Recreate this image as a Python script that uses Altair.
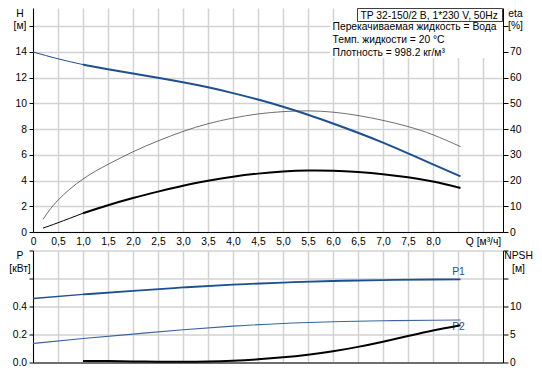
import altair as alt
import pandas as pd

FONT = "Liberation Sans"
FS = 10.3

# ---------------- data ----------------
q_h = [0, 0.5, 1.0, 1.5, 2.0, 2.5, 3.0, 3.5, 4.0, 4.5, 5.0, 5.5, 6.0, 6.5, 7.0, 7.5, 8.0, 8.55]
h_vals = [14.0, 13.47, 13.02, 12.66, 12.32, 11.99, 11.64, 11.25, 10.8, 10.3, 9.74, 9.12, 8.44, 7.72, 6.95, 6.12, 5.26, 4.33]

q_eta = [0.2, 0.5, 1.0, 1.5, 2.0, 2.5, 3.0, 3.5, 4.0, 4.5, 5.0, 5.5, 6.0, 6.5, 7.0, 7.5, 8.0, 8.55]
eta_pump = [4.9, 12.4, 20.6, 26.3, 31.2, 35.4, 39.1, 42.1, 44.3, 45.9, 46.8, 47.1, 46.6, 45.3, 43.4, 41.0, 37.8, 33.2]
eta_total = [1.5, 3.6, 7.3, 10.4, 13.2, 15.7, 18.0, 19.9, 21.5, 22.7, 23.5, 23.9, 23.8, 23.3, 22.5, 21.3, 19.6, 17.1]

q_p = [0, 1, 2, 3, 4, 5, 6, 7, 8, 8.55]
p1_vals = [0.457, 0.486, 0.512, 0.536, 0.556, 0.571, 0.582, 0.589, 0.593, 0.594]
p2_vals = [0.136, 0.171, 0.203, 0.234, 0.260, 0.279, 0.291, 0.298, 0.302, 0.304]

q_npsh = [1.0, 1.5, 2.0, 2.5, 3.0, 3.5, 4.0, 4.5, 5.0, 5.5, 6.0, 6.5, 7.0, 7.5, 8.0, 8.55]
npsh_vals = [0.29, 0.25, 0.2, 0.15, 0.12, 0.17, 0.33, 0.58, 0.93, 1.4, 2.0, 2.79, 3.72, 4.72, 5.71, 6.66]

x_ticks = [0, 0.5, 1.0, 1.5, 2.0, 2.5, 3.0, 3.5, 4.0, 4.5, 5.0, 5.5, 6.0, 6.5, 7.0, 7.5, 8.0, 8.5, 9.0]
h_ticks = [0, 2, 4, 6, 8, 10, 12, 14, 16]
eta_ticks = [0, 10, 20, 30, 40, 50, 60, 70, 80]
p_ticks = [0.0, 0.2, 0.4, 0.6, 0.8]
npsh_ticks = [0, 5, 10, 15, 20]

title_box = "TP 32-150/2 B, 1*230 V, 50Hz"
info_lines = ["Перекачиваемая жидкость = Вода", "Темп. жидкости = 20 °C", "Плотность = 998.2 кг/м³"]

BLUE = "#1d4f91"
INTERP = "natural"
TC = 40  # large tick count so explicit tick values are never thinned

# ---------------- tables ----------------
def split(q, v, name, thin_w, thick_w, col_thin, col_thick, cut=1.0):
    df = pd.DataFrame({"Q": q, "v": v})
    a = df[df.Q <= cut].assign(seg=name + "_a", w=thin_w, c=col_thin)
    b = df[df.Q >= cut].assign(seg=name + "_b", w=thick_w, c=col_thick)
    return pd.concat([a, b], ignore_index=True)

h_df = split(q_h, h_vals, "h", 1.0, 2.0, BLUE, BLUE)
eta_df = pd.concat([
    pd.DataFrame({"Q": q_eta, "v": eta_pump, "seg": "pump", "w": 0.8, "c": "#4a4a4a"}),
    split(q_eta, eta_total, "tot", 1.0, 2.0, "#000000", "#000000"),
], ignore_index=True)
p_df = pd.concat([
    split(q_p, p1_vals, "p1", 1.3, 1.8, BLUE, BLUE),
    pd.DataFrame({"Q": q_p, "v": p2_vals, "seg": "p2", "w": 1.1, "c": "#3a63a0"}),
], ignore_index=True)
npsh_df = pd.DataFrame({"Q": q_npsh, "v": npsh_vals})
p1_end = pd.DataFrame({"Q": [q_p[-1]], "v": [p1_vals[-1]], "t": ["P1"]})
p2_end = pd.DataFrame({"Q": [q_p[-1]], "v": [p2_vals[-1]], "t": ["P2"]})
dummy = pd.DataFrame({"k": [0]})

W = 470
H_TOP = 224
H_BOT = 112
QMAX = 9.4
HMAX = 17.42

x_label_expr = ("datum.value >= 8.9 ? 'Q [м³/ч]' : datum.value > 8.4 ? '' : "
                "datum.value == 0 ? '0' : replace(format(datum.value, '.1f'), '.', ',')")

x_top = alt.X("Q:Q", scale=alt.Scale(domain=[0, QMAX], nice=False, zero=False),
              axis=alt.Axis(values=x_ticks, tickCount=TC, grid=True, ticks=False, tickSize=0,
                            labelPadding=4, labelExpr=x_label_expr, labelFlush=False,
                            labelOverlap=False, labelBound=False, title=None))
x_bot = alt.X("Q:Q", scale=alt.Scale(domain=[0, QMAX], nice=False, zero=False),
              axis=alt.Axis(values=x_ticks, tickCount=TC, grid=True, ticks=False, labels=False,
                            title=None))

# ---------------- top panel ----------------
h_line = alt.Chart(h_df).mark_line(interpolate=INTERP).encode(
    x=x_top,
    y=alt.Y("v:Q", scale=alt.Scale(domain=[0, HMAX], nice=False),
            axis=alt.Axis(orient="left", values=h_ticks, tickCount=TC, grid=True, tickSize=4,
                          labelPadding=2.5, labelExpr="datum.value > 15 ? '' : datum.label",
                          format="d", labelOverlap=False,
                          title=["H", "[м]"], titleAngle=0, titleAlign="center",
                          titleBaseline="top", titleX=-13.5, titleY=0, titleLineHeight=12.5)),
    detail="seg:N",
    color=alt.Color("c:N", scale=None),
    strokeWidth=alt.StrokeWidth("w:Q", scale=None),
)

eta_line = alt.Chart(eta_df).mark_line(interpolate=INTERP).encode(
    x=x_top,
    y=alt.Y("v:Q", scale=alt.Scale(domain=[0, HMAX * 5], nice=False),
            axis=alt.Axis(orient="right", values=eta_ticks, tickCount=TC, grid=False, tickSize=5,
                          labelPadding=1.5, labelExpr="datum.value > 75 ? '' : datum.label",
                          format="d", labelOverlap=False,
                          title=["eta", "[%]"], titleAngle=0, titleAlign="center",
                          titleBaseline="top", titleX=12, titleY=0, titleLineHeight=12.5)),
    detail="seg:N",
    color=alt.Color("c:N", scale=None),
    strokeWidth=alt.StrokeWidth("w:Q", scale=None),
)

bg = alt.Chart(dummy).mark_rect(fill="white").encode(
    x=alt.value(297), x2=alt.value(469.5), y=alt.value(13), y2=alt.value(50))
box = alt.Chart(dummy).mark_rect(fill="white", stroke="#404040", strokeWidth=1).encode(
    x=alt.value(324.5), x2=alt.value(469.5), y=alt.value(0.5), y2=alt.value(13.5))
box_text = alt.Chart(dummy).mark_text(align="left", baseline="middle", font=FONT, fontSize=FS,
                                      color="#000").encode(
    x=alt.value(327.5), y=alt.value(7.5), text=alt.value(title_box))
info_layers = [
    alt.Chart(dummy).mark_text(align="left", baseline="middle", font=FONT, fontSize=FS,
                               color="#000").encode(
        x=alt.value(299.5), y=alt.value(yy), text=alt.value(t))
    for t, yy in zip(info_lines, [18.5, 31.5, 44.5])
]

top = alt.layer(
    alt.layer(h_line),
    alt.layer(eta_line),
    bg, box, box_text, *info_layers,
).resolve_scale(y="independent").properties(width=W, height=H_TOP)

# ---------------- bottom panel ----------------
p_y = alt.Y("v:Q", scale=alt.Scale(domain=[0, 0.8], nice=False),
            axis=alt.Axis(orient="left", values=p_ticks, tickCount=TC, grid=True, tickSize=4,
                          labelPadding=2.5, format=".1f",
                          labelExpr="datum.value > 0.5 ? '' : datum.label",
                          labelOverlap=False,
                          title=["P", "[кВт]"], titleAngle=0, titleAlign="center",
                          titleBaseline="top", titleX=-13.5, titleY=0, titleLineHeight=12.5))
p_line = alt.Chart(p_df).mark_line(interpolate=INTERP).encode(
    x=x_bot, y=p_y, detail="seg:N",
    color=alt.Color("c:N", scale=None),
    strokeWidth=alt.StrokeWidth("w:Q", scale=None),
)
p1_lab = alt.Chart(p1_end).mark_text(font=FONT, fontSize=FS, color=BLUE, dx=-2, dy=-7,
                                     align="center", baseline="middle").encode(
    x=x_bot, y=p_y, text="t:N")
p2_lab = alt.Chart(p2_end).mark_text(font=FONT, fontSize=FS, color=BLUE, dx=-2, dy=7,
                                     align="center", baseline="middle").encode(
    x=x_bot, y=p_y, text="t:N")

npsh_line = alt.Chart(npsh_df).mark_line(interpolate=INTERP, color="#000", strokeWidth=2).encode(
    x=x_bot,
    y=alt.Y("v:Q", scale=alt.Scale(domain=[0, 20], nice=False),
            axis=alt.Axis(orient="right", values=npsh_ticks, tickCount=TC, grid=False, tickSize=5,
                          labelPadding=1.5, format="d",
                          labelExpr="datum.value > 12 ? '' : datum.label",
                          labelOverlap=False,
                          title=["NPSH", "[м]"], titleAngle=0, titleAlign="center",
                          titleBaseline="top", titleX=15, titleY=0, titleLineHeight=12.5)),
)

bottom = alt.layer(
    alt.layer(p_line, p1_lab, p2_lab),
    alt.layer(npsh_line),
).resolve_scale(y="independent").properties(width=W, height=H_BOT)

chart = alt.vconcat(top, bottom, spacing=18.5, bounds="flush").properties(
    padding=0
).configure(font=FONT).configure_view(strokeWidth=0).configure_axis(
    labelFont=FONT, labelFontSize=FS, labelColor="#000", labelOverlap=False,
    titleFont=FONT, titleFontSize=FS, titleFontWeight="normal", titleColor="#000",
    domainColor="#000", domainWidth=1, tickColor="#000", tickWidth=1,
    gridColor="#d2d2d2", gridWidth=1.5,
)

chart.save("out.html", embed_options={"renderer": "svg", "actions": False})
